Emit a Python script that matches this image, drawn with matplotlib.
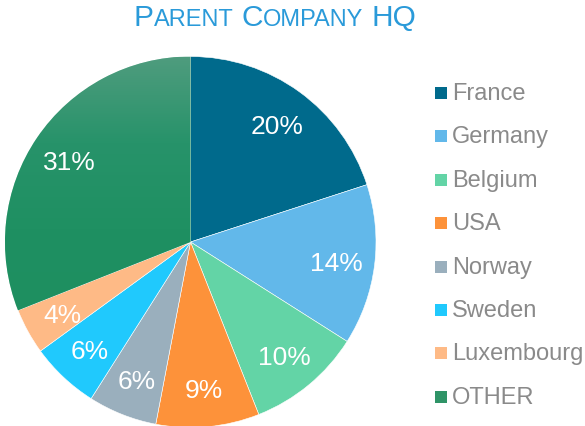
import numpy as np
import matplotlib
matplotlib.use("Agg")
import matplotlib.pyplot as plt
from matplotlib.patches import Rectangle
from matplotlib.offsetbox import TextArea, HPacker, AnchoredOffsetbox
from matplotlib.colors import LinearSegmentedColormap

# data
countries = ['France', 'Germany', 'Belgium', 'USA', 'Norway', 'Sweden', 'Luxembourg', 'OTHER']
shares = [20, 14, 10, 9, 6, 6, 4, 31]
colors = ['#006a8c', '#62b8ea', '#63d4a6', '#fd923a', '#9aafbd', '#20c9fd', '#feba86', '#1e8f60']

plt.rcParams['font.family'] = ['Liberation Sans', 'DejaVu Sans']

W, H = 585, 427
fig = plt.figure(figsize=(W / 100, H / 100), dpi=100)

# pie axes: center (190.5, 243) px, radius 185.5 px
cx, cy, r = 190.5, 243, 185.5
ax = fig.add_axes([(cx - r) / W, 1 - (cy + r) / H, 2 * r / W, 2 * r / H])
wedges, texts, autotexts = ax.pie(
    shares, colors=colors, startangle=90, counterclock=False,
    autopct='%d%%', pctdistance=0.79, radius=1,
    wedgeprops=dict(edgecolor='white', linewidth=0.4),
    textprops=dict(color='white', fontsize=19))
ax.set_xlim(-1, 1)
ax.set_ylim(-1, 1)
ax.set_axis_off()

# vertical gradient on the OTHER slice
other = wedges[-1]
grad = LinearSegmentedColormap.from_list('g', ['#1e8f60', '#1f9062', '#27936a', '#4f9c7e'])
img = ax.imshow(np.linspace(0, 1, 256).reshape(-1, 1), cmap=grad, origin='lower',
                extent=[-1, 0.005, -0.4, 1], aspect='auto', zorder=1.5)
img.set_clip_path(other)
for t in autotexts:
    t.set_zorder(3)
    t.set_va('center_baseline')

# title in small caps
title_color = '#2a9ad9'
def piece(s, size):
    return TextArea(s, textprops=dict(color=title_color, fontsize=size))

words = [('P', 'ARENT'), ('C', 'OMPANY'), ('HQ', '')]
word_boxes = []
for big, small in words:
    kids = [piece(big, 21.5)]
    if small:
        kids.append(piece(small, 17))
    word_boxes.append(HPacker(children=kids, pad=0, sep=0, align='baseline'))
title_box = HPacker(children=word_boxes, pad=0, sep=6, align='baseline')
anch = AnchoredOffsetbox(loc='center', child=title_box, frameon=False,
                         bbox_to_anchor=(275 / W, 1 - 18 / H),
                         bbox_transform=fig.transFigure, pad=0, borderpad=0)
fig.add_artist(anch)

# legend
y0, dy = 94, 43.4
for i, (name, c) in enumerate(zip(countries, colors)):
    y = y0 + i * dy
    if name == 'OTHER':
        c = '#2f9467'
    fig.add_artist(Rectangle((435 / W, 1 - (y + 6) / H), 12 / W, 12 / H,
                             transform=fig.transFigure, facecolor=c, edgecolor='none'))
    fig.text(452 / W, 1 - y / H, name, color='#8a8a8a', fontsize=17,
             va='center', ha='left')

fig.savefig('out.png', dpi=100)
